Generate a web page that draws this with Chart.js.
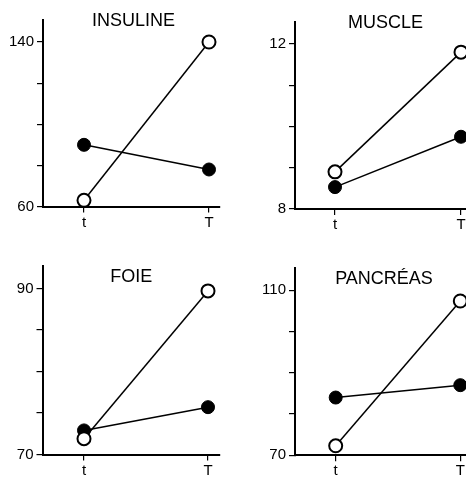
<!DOCTYPE html>
<html><head><meta charset="utf-8">
<script src="https://cdn.jsdelivr.net/npm/chart.js@4"></script>
<style>
html,body{margin:0;padding:0;background:#fff;overflow:hidden;width:466px;height:482px;position:relative}
canvas{position:absolute}
</style></head><body>
<canvas id="c1"></canvas><canvas id="c2"></canvas><canvas id="c3"></canvas><canvas id="c4"></canvas>
<script>
// ---- data ----
const categories = ['t', 'T'];
const titles = ['INSULINE', 'MUSCLE', 'FOIE', 'PANCRÉAS'];
const insulineOpen = [63, 140];
const insulineFilled = [90, 78];
const muscleOpen = [8.9, 11.8];
const muscleFilled = [8.53, 9.75];
const foieOpen = [71.9, 89.7];
const foieFilled = [72.9, 75.7];
const pancreasOpen = [72.3, 107.4];
const pancreasFilled = [84, 87];
const insulineTicks = [60, 80, 100, 120, 140];
const muscleTicks = [8, 9, 10, 11, 12];
const foieTicks = [70, 75, 80, 85, 90];
const pancreasTicks = [70, 80, 90, 100, 110];
const insulineMax = 150.7, muscleMax = 12.53, foieMax = 92.7, pancreasMax = 115.4;

// ---- layout ----
const FONT = '"Liberation Sans", Arial, Helvetica, sans-serif';
const panels = [
  {id:'c1', title:titles[0], open:insulineOpen, filled:insulineFilled, ticks:insulineTicks, yMax:insulineMax,
   left:0, top:0, w:233, h:241, axL:43, axT:20, axB:206.5, axR:220, tPx:84, TPx:209, dy:6, dx:2},
  {id:'c2', title:titles[1], open:muscleOpen, filled:muscleFilled, ticks:muscleTicks, yMax:muscleMax,
   left:233, top:0, w:245, h:241, axL:295, axT:22, axB:209, axR:473, tPx:335, TPx:461, dy:6, dx:1.5},
  {id:'c3', title:titles[2], open:foieOpen, filled:foieFilled, ticks:foieTicks, yMax:foieMax,
   left:0, top:241, w:233, h:241, axL:42.5, axT:266, axB:454.5, axR:220, tPx:84, TPx:208, dy:15.7, dx:0},
  {id:'c4', title:titles[3], open:pancreasOpen, filled:pancreasFilled, ticks:pancreasTicks, yMax:pancreasMax,
   left:233, top:241, w:245, h:241, axL:295, axT:268, axB:455.3, axR:473, tPx:335.7, TPx:460.3, dy:15.7, dx:0}
];

const panelTitle = {
  id: 'panelTitle',
  afterDraw(chart, args, opts) {
    const {ctx, chartArea} = chart;
    ctx.save();
    ctx.font = '18px ' + FONT;
    ctx.fillStyle = '#000';
    ctx.textAlign = 'center';
    ctx.textBaseline = 'alphabetic';
    ctx.fillText(opts.text, (chartArea.left + chartArea.right) / 2 + opts.dx, chartArea.top + opts.dy);
    ctx.restore();
  }
};

panels.forEach(p => {
  const cv = document.getElementById(p.id);
  cv.width = p.w; cv.height = p.h;
  cv.style.left = p.left + 'px'; cv.style.top = p.top + 'px';
  cv.style.width = p.w + 'px'; cv.style.height = p.h + 'px';
  const ppu = p.TPx - p.tPx;
  const xMin = -(p.tPx - p.axL) / ppu;
  const xMax = (categories.length - 1) + (p.axR - p.TPx) / ppu;
  const toPts = vals => categories.map((c, i) => ({x: i, y: vals[i]}));
  const gridCommon = {drawOnChartArea: false, drawTicks: true, color: '#000', lineWidth: 1.2};
  const border = {display: true, color: '#000', width: 2};
  new Chart(cv, {
    type: 'line',
    data: {
      datasets: [
        {data: toPts(p.open), borderColor: '#000', borderWidth: 1.5, backgroundColor: '#fff',
         pointBackgroundColor: '#fff', pointBorderColor: '#000', pointBorderWidth: 2, pointRadius: 6.5, clip: false, tension: 0},
        {data: toPts(p.filled), borderColor: '#000', borderWidth: 1.5, backgroundColor: '#000',
         pointBackgroundColor: '#000', pointBorderColor: '#000', pointBorderWidth: 1, pointRadius: 6.5, clip: false, tension: 0}
      ]
    },
    options: {
      responsive: false, animation: false,
      layout: {autoPadding: false, padding: {left: 0, top: p.axT - p.top, right: p.w - (p.axR - p.left), bottom: 0}},
      plugins: {legend: {display: false}, tooltip: {enabled: false}, panelTitle: {text: p.title, dy: p.dy, dx: p.dx}},
      scales: {
        x: {
          type: 'linear', min: xMin, max: xMax,
          afterFit: s => { s.height = p.h - (p.axB - p.top); },
          afterBuildTicks: s => { s.ticks = categories.map((c, i) => ({value: i})); },
          ticks: {callback: v => categories[v] ?? '', color: '#000', font: {family: FONT, size: 15}, padding: 1, maxRotation: 0, autoSkip: false},
          grid: Object.assign({tickLength: 6}, gridCommon),
          border: border
        },
        y: {
          min: p.ticks[0], max: p.yMax,
          afterFit: s => { s.width = p.axL - p.left; },
          afterBuildTicks: s => { s.ticks = p.ticks.map(v => ({value: v})); },
          ticks: {callback: (v, i) => (i === 0 || i === p.ticks.length - 1) ? String(v) : '', color: '#000', font: {family: FONT, size: 15}, padding: 3, autoSkip: false},
          grid: Object.assign({tickLength: 6}, gridCommon),
          border: border
        }
      }
    },
    plugins: [panelTitle]
  });
});
</script>
</body></html>
